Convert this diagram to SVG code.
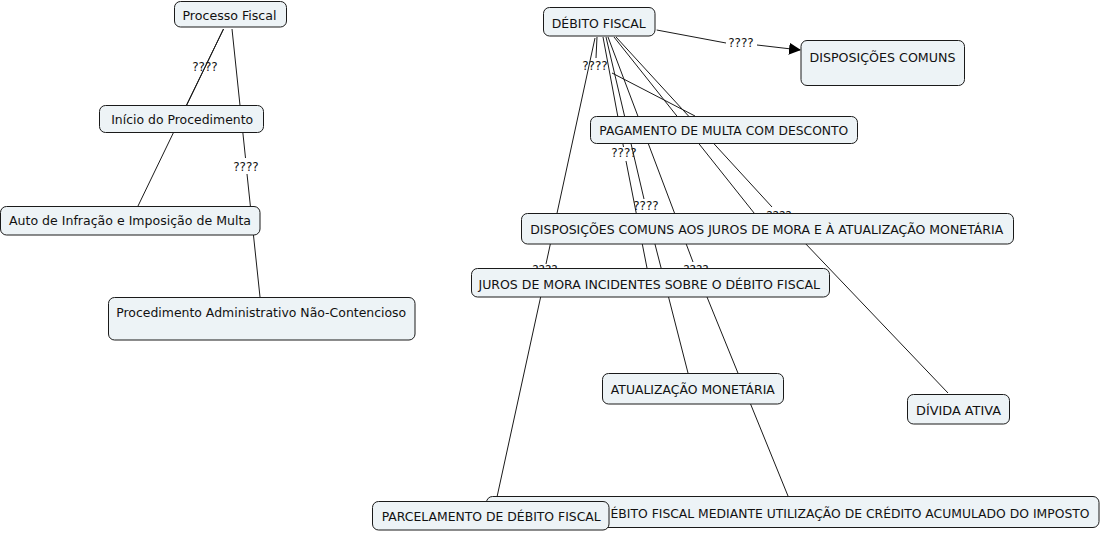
<svg xmlns="http://www.w3.org/2000/svg" width="1103" height="533" viewBox="0 0 1103 533">
<style>
.bg{fill:#ffffff}
.n rect{fill:#edf3f6;stroke:#1a1a1a;stroke-width:1}
.n text{font-family:"DejaVu Sans","Liberation Sans",sans-serif;font-size:12px;fill:#111;text-anchor:middle}
.c line{stroke:#1a1a1a;stroke-width:1;fill:none}
.c text{font-family:"DejaVu Sans","Liberation Sans",sans-serif;font-size:12px;fill:#111;text-anchor:middle}
</style>
<defs>
<marker id="arr" markerWidth="12" markerHeight="12" refX="11" refY="6" orient="auto" markerUnits="userSpaceOnUse">
<path d="M0,0 L12,6 L0,12 Z" fill="#000"/>
</marker>
</defs>
<rect class="bg" x="0" y="0" width="1103" height="533"/>
<g id="connectors" class="c">
<line x1="223.5" y1="29" x2="186.5" y2="105"/>
<line x1="223.5" y1="29" x2="138" y2="206"/>
<text x="205" y="71">????</text>
<line x1="232" y1="29" x2="245.5" y2="158"/>
<line x1="247" y1="174" x2="260" y2="297"/>
<text x="246" y="171">????</text>
<line x1="656.7" y1="30" x2="726" y2="43"/>
<line x1="757" y1="45" x2="800" y2="50" marker-end="url(#arr)"/>
<text x="741" y="47">????</text>
<line x1="597" y1="37" x2="596" y2="58"/>
<line x1="612" y1="73" x2="695" y2="116"/>
<text x="595" y="70">????</text>
<line x1="595" y1="38" x2="546" y2="264"/>
<line x1="545" y1="277" x2="497" y2="497"/>
<text x="545" y="274">????</text>
<line x1="603" y1="37" x2="623.5" y2="147"/>
<line x1="626" y1="161" x2="647" y2="268"/>
<text x="624" y="157">????</text>
<line x1="606" y1="37" x2="644" y2="199"/>
<line x1="647" y1="213" x2="688" y2="373"/>
<text x="646" y="210">????</text>
<line x1="608" y1="37" x2="693" y2="262"/>
<line x1="696" y1="270" x2="788" y2="496"/>
<text x="696" y="274">????</text>
<line x1="614" y1="37" x2="766" y2="228"/>
<line x1="616" y1="37" x2="772" y2="207"/>
<line x1="783" y1="220" x2="948" y2="393"/>
<text x="779" y="220">????</text>
</g>
<g id="n-processo" class="n"><rect x="174.5" y="1.5" width="112" height="25.5" rx="6"/><text x="229.5" y="20" textLength="94" lengthAdjust="spacingAndGlyphs">Processo Fiscal</text></g>
<g id="n-inicio" class="n"><rect x="99.5" y="105.5" width="164" height="27" rx="6"/><text x="182.2" y="123.5" textLength="142" lengthAdjust="spacingAndGlyphs">Início do Procedimento</text></g>
<g id="n-auto" class="n"><rect x="0.5" y="206.5" width="259.5" height="28.5" rx="6"/><text x="130" y="225" textLength="242" lengthAdjust="spacingAndGlyphs">Auto de Infração e Imposição de Multa</text></g>
<g id="n-procedimento" class="n"><rect x="108.5" y="297.5" width="306.5" height="42.5" rx="6"/><text x="261.2" y="317" textLength="290" lengthAdjust="spacingAndGlyphs">Procedimento Administrativo Não-Contencioso</text></g>
<g id="n-debito" class="n"><rect x="543.5" y="7.5" width="111.5" height="28.5" rx="6"/><text x="598.7" y="28" textLength="94" lengthAdjust="spacingAndGlyphs">DÉBITO FISCAL</text></g>
<g id="n-disp" class="n"><rect x="801" y="40.5" width="163.5" height="45" rx="6"/><text x="882.5" y="62" textLength="146" lengthAdjust="spacingAndGlyphs">DISPOSIÇÕES COMUNS</text></g>
<g id="n-pagmulta" class="n"><rect x="590.5" y="116.5" width="267" height="27" rx="6"/><text x="723.8" y="134.5" textLength="249" lengthAdjust="spacingAndGlyphs">PAGAMENTO DE MULTA COM DESCONTO</text></g>
<g id="n-dispjuros" class="n"><rect x="521.5" y="213.5" width="492" height="30.5" rx="6"/><text x="766.7" y="234" textLength="473" lengthAdjust="spacingAndGlyphs">DISPOSIÇÕES COMUNS AOS JUROS DE MORA E À ATUALIZAÇÃO MONETÁRIA</text></g>
<g id="n-juros" class="n"><rect x="471.5" y="268.5" width="358" height="28.5" rx="6"/><text x="649.2" y="289" textLength="341.5" lengthAdjust="spacingAndGlyphs">JUROS DE MORA INCIDENTES SOBRE O DÉBITO FISCAL</text></g>
<g id="n-atual" class="n"><rect x="602.5" y="373.5" width="181" height="30.5" rx="6"/><text x="692.8" y="394" textLength="164" lengthAdjust="spacingAndGlyphs">ATUALIZAÇÃO MONETÁRIA</text></g>
<g id="n-divida" class="n"><rect x="907.5" y="394.5" width="102" height="29.5" rx="6"/><text x="958.5" y="414.5" textLength="85" lengthAdjust="spacingAndGlyphs">DÍVIDA ATIVA</text></g>
<g id="n-credito" class="n"><rect x="486.5" y="496.5" width="612.5" height="31" rx="6"/><text x="610.5" y="518" style="text-anchor:start" textLength="479" lengthAdjust="spacingAndGlyphs">ÉBITO FISCAL MEDIANTE UTILIZAÇÃO DE CRÉDITO ACUMULADO DO IMPOSTO</text></g>
<g id="n-parcel" class="n"><rect x="372.5" y="501.5" width="236.5" height="28.5" rx="6"/><text x="491.2" y="521" textLength="219" lengthAdjust="spacingAndGlyphs">PARCELAMENTO DE DÉBITO FISCAL</text></g>
</svg>
